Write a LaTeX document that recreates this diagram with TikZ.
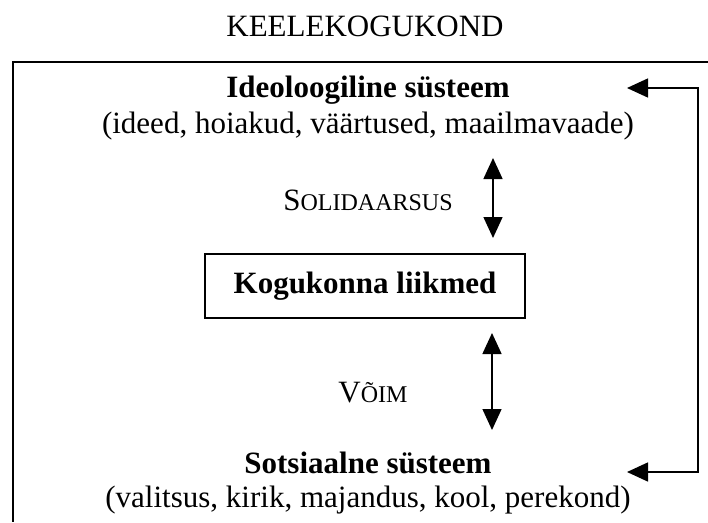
\documentclass[tikz,border=0pt]{standalone}
\usepackage{fontspec}
\setmainfont{Liberation Serif}
\usetikzlibrary{arrows.meta}

\newcommand{\fakesc}[2]{#1{\fontsize{24}{28}\selectfont #2}}

\begin{document}
\begin{tikzpicture}[x=1pt,y=-1pt,
    every node/.style={font=\fontsize{31}{36}\selectfont, inner sep=0pt},
    heavy/.style={line width=1.5pt},
    tip/.style={heavy, {Triangle[length=21pt,width=19pt]}-{Triangle[length=21pt,width=19pt]}}]
  \useasboundingbox (0,0) rectangle (708,522);
  % title above the frame
  \node (title) at (365,26) {KEELEKOGUKOND};
  \draw[heavy] (708,62) -- (13,62) -- (13,522);
  % upper system
  \node[font=\fontsize{31}{36}\selectfont\bfseries] (ideo) at (368,90) {Ideoloogiline süsteem};
  \node (ideolist) at (368,126) {(ideed, hoiakud, väärtused, maailmavaade)};
  % members
  \node (solid) at (368,200) {\fakesc{S}{OLIDAARSUS}};
  \node[draw, heavy, minimum width=320, minimum height=64,
        font=\fontsize{31}{36}\selectfont\bfseries] (liikmed) at (365,286) {Kogukonna liikmed};
  \node (voim) at (373,393) {\fakesc{V}{ÕIM}};
  % lower system
  \node[font=\fontsize{31}{36}\selectfont\bfseries] (sots) at (368,463) {Sotsiaalne süsteem};
  \node (sotslist) at (368,500) {(valitsus, kirik, majandus, kool, perekond)};
  % arrows
  \coordinate (solidtop) at (493,158);
  \coordinate (solidbot) at (493,238);
  \coordinate (voimtop) at (492,333);
  \coordinate (voimbot) at (492,430);
  \draw[tip] (solidtop) -- (solidbot);
  \draw[tip] (voimtop) -- (voimbot);
  \coordinate (backtop) at (627,88);
  \coordinate (backbot) at (627,472);
  \draw[tip] (backtop) -- (698,88) -- (698,472) -- (backbot);
\end{tikzpicture}
\end{document}
